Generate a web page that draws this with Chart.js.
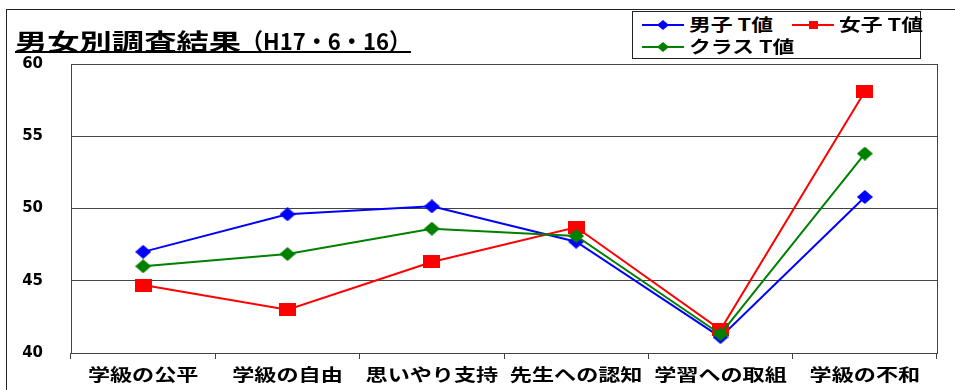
<!DOCTYPE html>
<html>
<head>
<meta charset="utf-8">
<script src="https://cdn.jsdelivr.net/npm/chart.js@4.4.0/dist/chart.umd.min.js"></script>
<style>
  html, body { margin: 0; padding: 0; background: #fff; }
  #wrap { position: relative; width: 955px; height: 390px; overflow: hidden; }
  #frame { position: absolute; left: 6px; top: 9px; width: 980px; height: 420px; border-left: 1px solid #222; border-top: 1px solid #222; }
  #chart { position: absolute; left: 0; top: 0; }
  .ttl { position: absolute; top: 29px; font: bold 23px "Noto Sans CJK JP"; line-height: 1; white-space: nowrap;
         text-decoration: underline; text-decoration-thickness: 2px; text-underline-offset: 1px; transform-origin: left top; }
  #legend { position: absolute; left: 632px; top: 11px; width: 287px; height: 46px; border: 1px solid #222; background: #fff; }
  .item { position: absolute; height: 16px; }
  .item svg { position: absolute; left: 0; top: 1px; }
  .lab { position: absolute; left: 47px; top: -4px; font: bold 17px "Noto Sans CJK JP"; line-height: 1.3; white-space: nowrap; transform-origin: left center; }
</style>
</head>
<body>
<div id="wrap">
  <div id="frame"></div>
  <canvas id="chart" width="955" height="390"></canvas>
  <div id="titleA" class="ttl">男女別調査結果</div>
  <div id="titleB" class="ttl">（H17・6・16）</div>
  <div id="legend"></div>
</div>
<script>
// data
const categories = ['学級の公平', '学級の自由', '思いやり支持', '先生への認知', '学習への取組', '学級の不和'];
const boysT  = [47.0, 49.6, 50.15, 47.7, 41.1, 50.8];
const girlsT = [44.7, 43.0, 46.3, 48.7, 41.6, 58.1];
const classT = [46.0, 46.85, 48.6, 48.1, 41.3, 53.8];
const seriesNames = ['男子 T値', '女子 T値', 'クラス T値'];
const yTicks = [40, 45, 50, 55, 60];

const colors = ['#0000ff', '#ff0000', '#008000'];

// little canvases used as point markers (the source is stretched sideways)
function marker(kind, color, w, h) {
  const c = document.createElement('canvas');
  c.width = w; c.height = h;
  const g = c.getContext('2d');
  g.fillStyle = color;
  g.beginPath();
  if (kind === 'diamond') {
    g.moveTo(w / 2, 0); g.lineTo(w, h / 2); g.lineTo(w / 2, h); g.lineTo(0, h / 2);
  } else {
    g.rect(0, 0, w, h);
  }
  g.closePath();
  g.fill();
  return c;
}
const kinds = ['diamond', 'square', 'diamond'];
const pointImgs = [
  marker('diamond', colors[0], 16, 14),
  marker('square', colors[1], 17, 13),
  marker('diamond', colors[2], 16, 14)
];

const plotBorder = {
  id: 'plotBorder',
  beforeDatasetsDraw(chart) {
    const a = chart.chartArea, ctx = chart.ctx;
    ctx.save();
    ctx.strokeStyle = '#444';
    ctx.lineWidth = 1;
    ctx.strokeRect(Math.round(a.left) + 0.5, Math.round(a.top) + 0.5, Math.round(a.right - a.left), Math.round(a.bottom - a.top));
    ctx.restore();
  }
};

// category labels, widened like the original
const xLabels = {
  id: 'xLabels',
  afterDraw(chart) {
    const xs = chart.scales.x, ctx = chart.ctx;
    ctx.save();
    ctx.font = 'bold 17px "Noto Sans CJK JP"';
    ctx.fillStyle = '#000';
    ctx.textAlign = 'center';
    ctx.textBaseline = 'middle';
    categories.forEach((c, i) => {
      ctx.save();
      ctx.translate(xs.getPixelForValue(i), chart.chartArea.bottom + 22);
      ctx.scale(1.3, 1);
      ctx.fillText(c, 0, 0);
      ctx.restore();
    });
    ctx.restore();
  }
};

const datasets = [boysT, girlsT, classT].map((vals, i) => ({
  label: seriesNames[i],
  data: vals,
  borderColor: colors[i],
  backgroundColor: colors[i],
  borderWidth: 2,
  pointStyle: pointImgs[i],
  pointRadius: 7,
  tension: 0,
  order: 3 - i
}));

new Chart(document.getElementById('chart'), {
  type: 'line',
  data: { labels: categories, datasets: datasets },
  options: {
    responsive: false,
    animation: false,
    layout: { padding: { left: 0, top: 64, right: 18, bottom: 0 } },
    plugins: { legend: { display: false }, title: { display: false }, tooltip: { enabled: false } },
    scales: {
      x: {
        offset: true,
        grid: { display: true, offset: true, drawOnChartArea: false, tickLength: 6, color: '#444' },
        border: { display: false },
        ticks: { display: false },
        afterFit(s) { s.height = 33; }
      },
      y: {
        min: 40, max: 60,
        afterBuildTicks(s) { s.ticks = yTicks.map(v => ({ value: v })); },
        grid: { color: '#444', lineWidth: 1, drawTicks: false },
        border: { display: false },
        ticks: { color: '#000', padding: 28, font: { family: 'DejaVu Sans', weight: 'bold', size: 15 } },
        afterFit(s) { s.width = 71; }
      }
    }
  },
  plugins: [plotBorder, xLabels]
});

// title: two pieces, each stretched to the source width
function fitWidth(el, left, w) {
  el.style.left = left + 'px';
  el.style.transform = 'scaleX(' + (w / el.getBoundingClientRect().width) + ')';
}
fitWidth(document.getElementById('titleA'), 15, 226);
fitWidth(document.getElementById('titleB'), 241, 170);

// legend box
const legend = document.getElementById('legend');
const spots = [[9, 5], [159, 5], [9, 27]];
let labScale = null;
seriesNames.forEach((name, i) => {
  const it = document.createElement('div');
  it.className = 'item';
  it.style.left = spots[i][0] + 'px';
  it.style.top = spots[i][1] + 'px';
  const mk = kinds[i] === 'diamond'
    ? '<polygon points="21,2 27,7 21,12 15,7" fill="' + colors[i] + '"/>'
    : '<rect x="17" y="3" width="9" height="8" fill="' + colors[i] + '"/>';
  it.innerHTML = '<svg width="42" height="14"><line x1="0" y1="7" x2="42" y2="7" stroke="' + colors[i] + '" stroke-width="2"/>' + mk + '</svg>' +
    '<span class="lab">' + name + '</span>';
  legend.appendChild(it);
  const lab = it.querySelector('.lab');
  if (labScale === null) labScale = 84 / lab.getBoundingClientRect().width;
  lab.style.transform = 'scaleX(' + labScale + ')';
});
</script>
</body>
</html>
